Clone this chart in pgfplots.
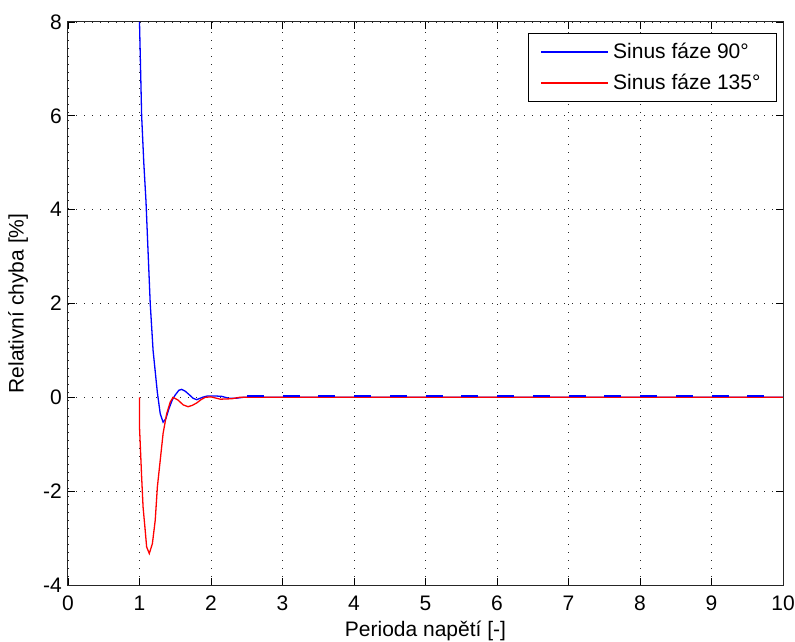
\documentclass[border=0pt]{standalone}
\usepackage{pgfplots}
\pgfplotsset{compat=1.18}
\usepackage{fontspec}
\setmainfont{Liberation Sans}
\begin{document}
\fontsize{21bp}{24bp}\selectfont
\begin{tikzpicture}
\useasboundingbox (-68bp,-57bp) rectangle (727bp,585bp);
\begin{axis}[
  at={(0,0)}, anchor=south west,
  scale only axis, width=715bp, height=563bp,
  xmin=0, xmax=10, ymin=-4, ymax=8,
  xtick={0,1,...,10}, ytick={-4,-2,...,8},
  xticklabels={0,1,2,3,4,5,6,7,8,9,10},
  yticklabels={-4,-2,0,2,4,6,8},
  tick align=inside, major tick length=7bp,
  tick style={black, line width=0.8bp},
  axis line style={black!85, line width=1bp},
  grid=major,
  major grid style={black!85, line width=0.9bp, dash pattern=on 1bp off 7bp},
  xticklabel style={yshift=-4bp},
  yticklabel style={xshift=1bp},
  every axis x label/.style={at={(axis description cs:0.5,0)}, yshift=-46bp, anchor=center},
  every axis y label/.style={at={(axis description cs:0,0.5)}, xshift=-50bp, rotate=90, anchor=center},
  xlabel={Perioda napětí [-]},
  ylabel={Relativní chyba [\%]},
  legend style={at={(axis description cs:1,1)}, anchor=north east, xshift=-6bp, yshift=-11bp,
    draw=black, line width=1bp, inner xsep=12bp, inner ysep=6.5bp, row sep=6bp,
    nodes={inner xsep=4bp, inner ysep=3bp, anchor=west}},
  legend cell align=left,
  legend image code/.code={\draw[#1, line width=1.6bp] (0bp,0bp) -- (67bp,0bp);},
]
\addplot[color=blue, line width=1.3bp] coordinates {
(1.00,8.0)(1.03,6.0)(1.06,5.0)(1.09,4.2)(1.12,3.1)(1.15,2.0)(1.19,1.0)(1.22,0.55)
(1.25,0.1)(1.29,-0.35)(1.33,-0.53)(1.37,-0.45)(1.41,-0.25)(1.46,-0.05)(1.50,0.05)
(1.55,0.15)(1.59,0.17)(1.64,0.13)(1.70,0.05)(1.75,-0.02)(1.80,-0.05)(1.88,0.0)
(1.95,0.03)(2.05,0.03)(2.15,0.02)(2.25,-0.02)(2.35,-0.02)(2.45,0.0)(10.0,0.0)
};
\addlegendentry{Sinus fáze 90°}
\addplot[color=red, line width=1.3bp] coordinates {
(1.00,0.0)(1.00,-0.63)(1.03,-1.7)(1.05,-2.34)(1.08,-2.84)(1.10,-3.19)(1.137,-3.33)
(1.18,-3.12)(1.22,-2.62)(1.25,-1.91)(1.29,-1.34)(1.33,-0.77)(1.38,-0.35)(1.43,-0.1)
(1.47,0.0)(1.54,-0.06)(1.61,-0.16)(1.68,-0.2)(1.74,-0.17)(1.80,-0.12)(1.86,-0.05)
(1.92,0.0)(2.00,0.01)(2.13,-0.04)(2.29,-0.03)(2.40,0.0)(10.0,0.0)
};
\addlegendentry{Sinus fáze 135°}
\addplot[color=blue, line width=1.7bp, forget plot, unbounded coords=jump] coordinates {
(2.50,0.03)(2.74,0.03)(nan,nan)
(3.00,0.03)(3.24,0.03)(nan,nan)
(3.50,0.03)(3.74,0.03)(nan,nan)
(4.00,0.03)(4.24,0.03)(nan,nan)
(4.50,0.03)(4.74,0.03)(nan,nan)
(5.00,0.03)(5.24,0.03)(nan,nan)
(5.50,0.03)(5.74,0.03)(nan,nan)
(6.00,0.03)(6.24,0.03)(nan,nan)
(6.50,0.03)(6.74,0.03)(nan,nan)
(7.00,0.03)(7.24,0.03)(nan,nan)
(7.50,0.03)(7.74,0.03)(nan,nan)
(8.00,0.03)(8.24,0.03)(nan,nan)
(8.50,0.03)(8.74,0.03)(nan,nan)
(9.00,0.03)(9.24,0.03)(nan,nan)
(9.50,0.03)(9.74,0.03)
};
\end{axis}
\end{tikzpicture}
\end{document}
